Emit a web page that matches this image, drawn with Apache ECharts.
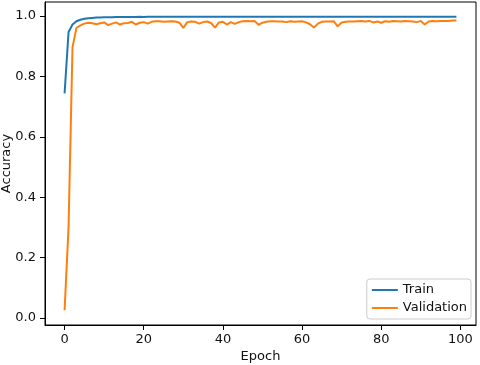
<!DOCTYPE html>
<html>
<head>
<meta charset="utf-8">
<script src="https://cdn.jsdelivr.net/npm/echarts@6/dist/echarts.min.js"></script>
<style>
  html, body { margin: 0; padding: 0; background: #fff; }
  #main { width: 480px; height: 365px; }
</style>
</head>
<body>
<div id="main"></div>
<script>
// data
const epochs = Array.from({ length: 100 }, (_, i) => i);
const train = [
  0.744, 0.947, 0.972, 0.983, 0.988, 0.991, 0.993, 0.994, 0.995, 0.995,
  0.996, 0.996, 0.996, 0.997, 0.997, 0.997, 0.997, 0.997, 0.997, 0.998,
  0.997, 0.998, 0.998, 0.998, 0.998, 0.998, 0.998, 0.998, 0.998, 0.998,
  0.998, 0.998, 0.998, 0.998, 0.998, 0.998, 0.998, 0.998, 0.998, 0.998,
  0.998, 0.998, 0.998, 0.998, 0.998, 0.998, 0.998, 0.998, 0.998, 0.998,
  0.998, 0.998, 0.998, 0.998, 0.998, 0.998, 0.998, 0.998, 0.998, 0.998,
  0.998, 0.998, 0.998, 0.998, 0.998, 0.998, 0.998, 0.998, 0.998, 0.998,
  0.998, 0.998, 0.998, 0.998, 0.998, 0.998, 0.998, 0.998, 0.998, 0.998,
  0.998, 0.998, 0.998, 0.998, 0.998, 0.998, 0.998, 0.998, 0.998, 0.998,
  0.998, 0.998, 0.998, 0.998, 0.998, 0.998, 0.998, 0.998, 0.998, 0.998
];
const validation = [
  0.025, 0.300, 0.897, 0.961, 0.969, 0.975, 0.978, 0.976, 0.973, 0.976,
  0.979, 0.970, 0.975, 0.979, 0.972, 0.976, 0.977, 0.981, 0.972, 0.978,
  0.980, 0.975, 0.981, 0.983, 0.983, 0.981, 0.982, 0.983, 0.982, 0.978,
  0.961, 0.980, 0.982, 0.981, 0.975, 0.980, 0.982, 0.977, 0.962, 0.979,
  0.981, 0.972, 0.980, 0.974, 0.980, 0.983, 0.984, 0.983, 0.984, 0.971,
  0.978, 0.981, 0.983, 0.983, 0.982, 0.982, 0.980, 0.983, 0.981, 0.982,
  0.983, 0.979, 0.973, 0.962, 0.975, 0.981, 0.982, 0.982, 0.983, 0.966,
  0.979, 0.981, 0.982, 0.982, 0.983, 0.984, 0.982, 0.984, 0.979, 0.982,
  0.978, 0.983, 0.981, 0.984, 0.983, 0.982, 0.984, 0.983, 0.982, 0.980,
  0.984, 0.972, 0.982, 0.984, 0.983, 0.984, 0.984, 0.984, 0.985, 0.985
];
const xTicks = [0, 20, 40, 60, 80, 100];
const yTicks = [0, 0.2, 0.4, 0.6, 0.8, 1.0];

const font = 'DejaVu Sans';
const textColor = '#111';

// matplotlib-like 5% margins
const xMin = epochs[0], xMax = epochs[epochs.length - 1];
const allY = train.concat(validation);
const yLo = Math.min(...allY), yHi = Math.max(...allY);
const xPad = (xMax - xMin) * 0.05, yPad = (yHi - yLo) * 0.05;

const chart = echarts.init(document.getElementById('main'));

const axisCommon = {
  axisLine: { show: true, onZero: false, lineStyle: { color: '#000', width: 1 } },
  axisTick: { show: true, length: 5, lineStyle: { color: '#000', width: 1 } },
  splitLine: { show: false },
  nameLocation: 'middle',
  nameMoveOverlap: false,
  nameTextStyle: { fontFamily: font, fontSize: 13, color: textColor }
};

chart.setOption({
  animation: false,
  backgroundColor: '#fff',
  grid: {
    left: 45, right: 4, top: 2, bottom: 40,
    outerBoundsMode: 'none', containLabel: false,
    show: true, borderColor: '#000', borderWidth: 1
  },
  legend: {
    orient: 'vertical',
    right: 9, bottom: 46,
    data: [
      { name: 'Train', icon: 'rect' },
      { name: 'Validation', icon: 'rect' }
    ],
    itemWidth: 26, itemHeight: 2, itemGap: 4,
    padding: [4, 4, 4, 5],
    backgroundColor: 'rgba(255,255,255,0.8)',
    borderColor: '#ccc', borderWidth: 1, borderRadius: 3,
    textStyle: { fontFamily: font, fontSize: 13, color: textColor, lineHeight: 14 }
  },
  xAxis: Object.assign({}, axisCommon, {
    type: 'value',
    min: xMin - xPad, max: xMax + xPad,
    name: 'Epoch', nameGap: 25,
    axisTick: Object.assign({}, axisCommon.axisTick, { customValues: xTicks }),
    axisLabel: {
      customValues: xTicks, margin: 8,
      fontFamily: font, fontSize: 13, color: textColor
    }
  }),
  yAxis: Object.assign({}, axisCommon, {
    type: 'value',
    min: yLo - yPad, max: yHi + yPad,
    name: 'Accuracy', nameGap: 32,
    axisTick: Object.assign({}, axisCommon.axisTick, { customValues: yTicks }),
    axisLabel: {
      customValues: yTicks, margin: 9,
      fontFamily: font, fontSize: 13, color: textColor,
      formatter: v => v.toFixed(1)
    }
  }),
  series: [
    {
      name: 'Train', type: 'line', showSymbol: false, symbol: 'none',
      data: epochs.map((e, i) => [e, train[i]]),
      lineStyle: { color: '#1f77b4', width: 2 },
      itemStyle: { color: '#1f77b4' }
    },
    {
      name: 'Validation', type: 'line', showSymbol: false, symbol: 'none',
      data: epochs.map((e, i) => [e, validation[i]]),
      lineStyle: { color: '#ff7f0e', width: 2 },
      itemStyle: { color: '#ff7f0e' }
    }
  ]
});

window.addEventListener('resize', chart.resize);
</script>
</body>
</html>
